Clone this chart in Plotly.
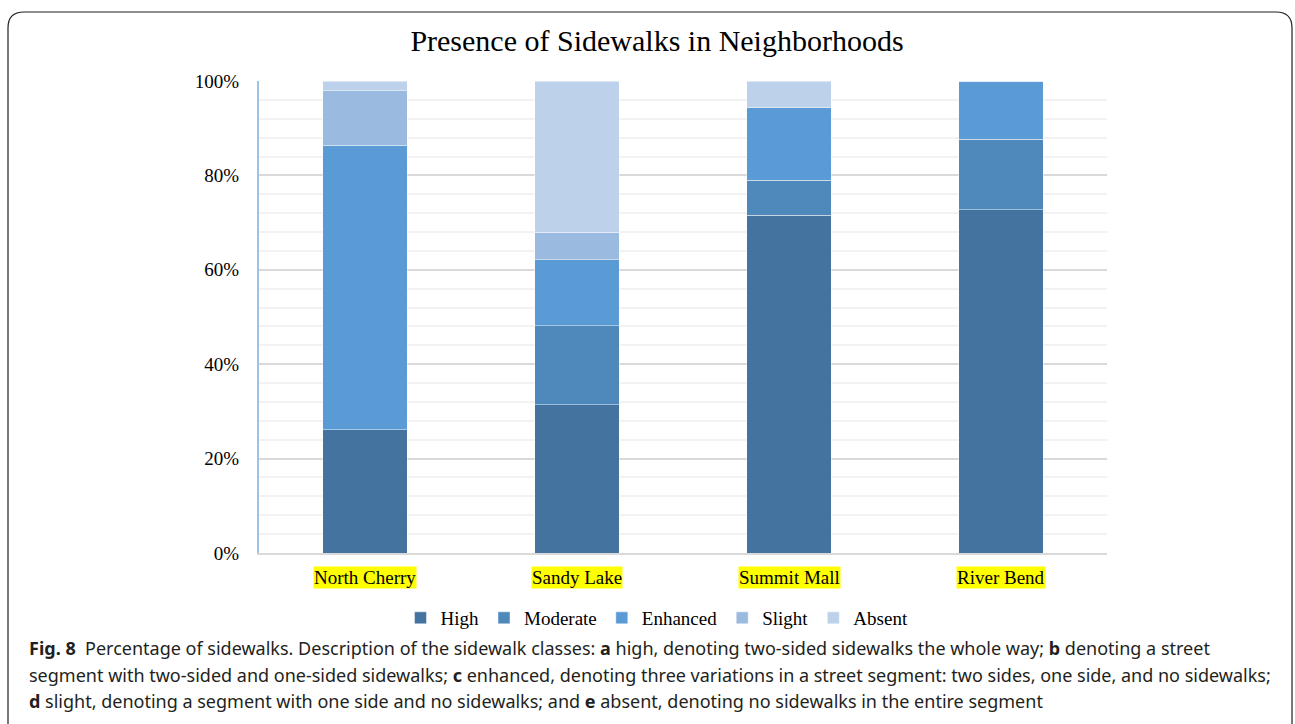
import plotly.graph_objects as go

categories = ["North Cherry", "Sandy Lake", "Summit Mall", "River Bend"]
series_names = ["High", "Moderate", "Enhanced", "Slight", "Absent"]
high = [26.1, 31.4, 71.6, 72.7]
moderate = [0.0, 16.7, 7.4, 15.0]
enhanced = [60.3, 14.0, 15.3, 12.3]
slight = [11.5, 5.9, 0.0, 0.0]
absent = [2.1, 32.0, 5.7, 0.0]
y_ticks = [0, 20, 40, 60, 80, 100]
y_tick_labels = ["0%", "20%", "40%", "60%", "80%", "100%"]
caption_lines = [
    "<b>Fig. 8</b>  Percentage of sidewalks. Description of the sidewalk classes: <b>a</b> high, denoting two-sided sidewalks the whole way; <b>b</b> denoting a street",
    "segment with two-sided and one-sided sidewalks; <b>c</b> enhanced, denoting three variations in a street segment: two sides, one side, and no sidewalks;",
    "<b>d</b> slight, denoting a segment with one side and no sidewalks; and <b>e</b> absent, denoting no sidewalks in the entire segment",
]

colors = ["#44739F", "#4F88BA", "#5B9BD5", "#9BBAE0", "#BDD1EA"]
values = [high, moderate, enhanced, slight, absent]

W, H = 1295, 724
L, R, T, B = 259, 188, 81, 171
PW, PH = W - L - R, H - T - B

def px(x):
    return (x - L) / PW

def py(y):
    return (H - B - y) / PH

SERIF = "Liberation Serif, Times New Roman, serif"

fig = go.Figure()
for name, vals, col in zip(series_names, values, colors):
    fig.add_trace(go.Bar(
        x=categories, y=vals, name=name,
        marker=dict(color=col, line=dict(color="rgba(255,255,255,0.45)", width=1)),
        width=0.4,
    ))

annotations = []
for c in categories:
    annotations.append(dict(
        x=c, xref="x", y=py(577), yref="paper", text=c, showarrow=False,
        font=dict(family=SERIF, size=19, color="black"), bgcolor="#FFFF00",
        xanchor="center", yanchor="middle", borderpad=0,
    ))
for i, line in enumerate(caption_lines):
    annotations.append(dict(
        x=px(27), xref="paper", y=py(648 + i * 26.5), yref="paper", text=line,
        showarrow=False, xanchor="left", yanchor="middle", align="left",
        font=dict(family="Noto Sans, sans-serif", size=18, color="#231F20"),
    ))

# rounded frame
x0, x1, y0, y1, r = 8, 1292, 12, 760, 16
path = (f"M {px(x0)},{py(y1)} L {px(x0)},{py(y0 + r)} "
        f"Q {px(x0)},{py(y0)} {px(x0 + r)},{py(y0)} "
        f"L {px(x1 - r)},{py(y0)} Q {px(x1)},{py(y0)} {px(x1)},{py(y0 + r)} "
        f"L {px(x1)},{py(y1)}")

fig.update_layout(
    width=W, height=H,
    margin=dict(l=L, r=R, t=T, b=B),
    barmode="stack", bargap=0.6,
    paper_bgcolor="white", plot_bgcolor="white",
    title=dict(text="Presence of Sidewalks in Neighborhoods", x=px(657), xref="paper",
               xanchor="center", y=1 - 40 / H, yanchor="middle",
               font=dict(family=SERIF, size=30, color="black")),
    legend=dict(orientation="h", x=px(657), xanchor="center", y=py(618), yanchor="middle",
                font=dict(family=SERIF, size=19, color="black"), traceorder="normal",
                itemwidth=30, bgcolor="rgba(0,0,0,0)"),
    xaxis=dict(showticklabels=False, showline=True, linecolor="#D9D9D9", linewidth=2,
               showgrid=False, zeroline=False, ticks=""),
    yaxis=dict(range=[0, 100], tickvals=y_ticks, ticktext=y_tick_labels,
               tickfont=dict(family=SERIF, size=19, color="black"),
               showgrid=True, gridcolor="#D9D9D9", gridwidth=1.5,
               minor=dict(dtick=4, tick0=0, showgrid=True, gridcolor="#F2F2F2", gridwidth=1.5),
               showline=True, linecolor="#9DC3E6", linewidth=2, zeroline=False,
               ticks="", ticklabelstandoff=14),
    annotations=annotations,
    shapes=[dict(type="path", path=path, xref="paper", yref="paper",
                 line=dict(color="#231F20", width=1.2), layer="above")],
    showlegend=True,
)

fig.write_html("out.html")
